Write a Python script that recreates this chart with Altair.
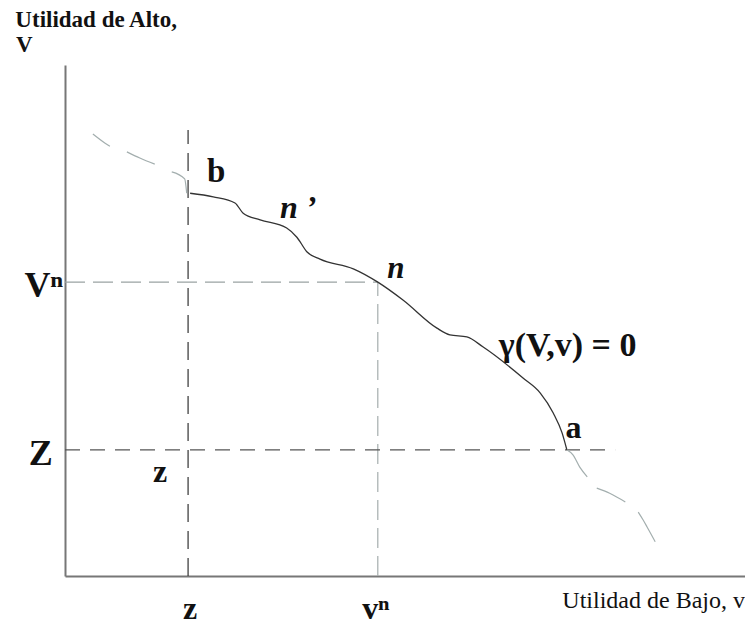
import altair as alt
import pandas as pd

# ---- data (v = Utilidad de Bajo, V = Utilidad de Alto), arbitrary 0-100 units ----
# solid part of gamma(V, v) = 0, from b to a
curve_v = [18.4, 21.8, 25.0, 26.2, 28.7, 32.6, 34.1, 35.6, 37.5, 42.4, 46.0,
           49.7, 54.7, 56.6, 59.1, 61.5, 67.4, 69.9, 71.8, 73.1, 73.8]
curve_V = [74.9, 74.2, 73.0, 71.0, 69.7, 68.1, 66.3, 63.4, 62.0, 60.1, 57.5,
           54.0, 48.5, 47.2, 46.8, 44.8, 38.7, 35.8, 31.9, 28.0, 24.7]

# faint broken extensions of the frontier beyond b and a
ext_seg = [1, 1, 1, 2, 2, 2, 3, 3, 3, 4, 4, 4, 4, 5, 5, 5, 6, 6, 6, 6]
ext_v = [4.1, 5.9, 6.6, 9.1, 11.0, 13.2, 15.7, 17.6, 17.9,
         73.8, 74.7, 75.7, 76.8, 78.2, 80.1, 82.4, 84.3, 85.0, 85.6, 86.8]
ext_V = [86.5, 84.7, 84.1, 83.0, 81.8, 80.6, 79.1, 77.7, 74.9,
         24.7, 23.7, 21.3, 19.4, 17.2, 16.2, 14.5, 12.5, 11.0, 9.6, 6.7]

# reference levels
z_low = 18.1      # z  (reservation utility of Bajo)
v_n = 46.0        # v^n
V_n = 57.5        # V^n
Z_high = 24.7     # Z  (reservation utility of Alto)
z_top = 87.3      # top of the dashed line through z
Z_right = 80.9    # right end of the dashed line through Z

# annotation texts and anchor points (data units)
lab_text = ["Utilidad de Alto,", "V", "Vⁿ", "Z", "z", "z", "vⁿ",
            "Utilidad de Bajo, v", "b", "n ’", "n", "γ(V,v) = 0", "a"]
lab_v = [-7.3, -7.2, -0.3, -1.8, 14.0, 18.4, 45.7, 100.0, 20.9, 31.6, 47.4, 63.8, 73.6]
lab_V = [107.4, 102.5, 54.6, 21.7, 18.4, -8.4, -8.4, -6.3, 77.1, 70.1, 58.3, 43.1, 27.0]

# ---- chart ----
xs = alt.Scale(domain=[0, 100], nice=False, zero=False)
ys = alt.Scale(domain=[0, 100], nice=False, zero=False)
ax = alt.Axis(domain=True, domainColor="#777777", domainWidth=2, ticks=False,
              labels=False, grid=False)


def X(field):
    return alt.X(field, type="quantitative", scale=xs, axis=ax, title=None)


def Y(field):
    return alt.Y(field, type="quantitative", scale=ys, axis=ax, title=None)


curve_df = pd.DataFrame({"v": curve_v, "V": curve_V})
ext_df = pd.DataFrame({"v": ext_v, "V": ext_V, "seg": ext_seg})

curve = alt.Chart(curve_df).mark_line(
    color="#333333", strokeWidth=1.3, interpolate="monotone"
).encode(x=X("v"), y=Y("V"))

ext = alt.Chart(ext_df).mark_line(
    color="#a3aeae", strokeWidth=1.2, interpolate="monotone"
).encode(x=X("v"), y=Y("V"), detail="seg:N")


def vrule(xv, y0, y1, color, dash):
    df = pd.DataFrame({"x": [xv], "y": [y0], "y2": [y1]})
    return alt.Chart(df).mark_rule(color=color, strokeWidth=1.2, strokeDash=dash).encode(
        x=X("x"), y=Y("y"), y2="y2:Q")


def hrule(yv, x0, x1, color, dash):
    df = pd.DataFrame({"y": [yv], "x": [x0], "x2": [x1]})
    return alt.Chart(df).mark_rule(color=color, strokeWidth=1.2, strokeDash=dash).encode(
        y=Y("y"), x=X("x"), x2="x2:Q")


rules = [
    vrule(z_low, 0, z_top, "#333333", [18, 9]),
    hrule(V_n, 0, v_n, "#9aa3a3", [20, 8]),
    vrule(v_n, 0, V_n, "#a5adad", [20, 8]),
    hrule(Z_high, 0, Z_right, "#555555", [15, 10]),
]

styles = [
    dict(size=23, weight="bold", style="normal", align="left"),
    dict(size=23, weight="bold", style="normal", align="left"),
    dict(size=36, weight="bold", style="normal", align="right"),
    dict(size=36, weight="bold", style="normal", align="right"),
    dict(size=32, weight="bold", style="normal", align="center"),
    dict(size=32, weight="bold", style="normal", align="center"),
    dict(size=32, weight="bold", style="normal", align="center"),
    dict(size=24, weight="normal", style="normal", align="right"),
    dict(size=33, weight="bold", style="normal", align="left"),
    dict(size=32, weight="bold", style="italic", align="left"),
    dict(size=31, weight="bold", style="italic", align="left"),
    dict(size=34, weight="bold", style="normal", align="left"),
    dict(size=32, weight="bold", style="normal", align="left"),
]

labels = []
for t, lv, lV, st in zip(lab_text, lab_v, lab_V, styles):
    df = pd.DataFrame({"x": [lv], "y": [lV], "t": [t]})
    labels.append(
        alt.Chart(df).mark_text(
            font="Liberation Serif", fontSize=st["size"], fontWeight=st["weight"],
            fontStyle=st["style"], align=st["align"], baseline="alphabetic",
            color="#111111"
        ).encode(x=X("x"), y=Y("y"), text="t:N")
    )

chart = alt.layer(*rules, ext, curve, *labels).properties(
    width=680, height=511,
    padding={"left": 57, "top": 57, "right": 0, "bottom": 50},
    autosize=alt.AutoSizeParams(type="none"),
).configure_view(stroke=None)

chart.save("out.html", embed_options={"renderer": "svg", "actions": False})
